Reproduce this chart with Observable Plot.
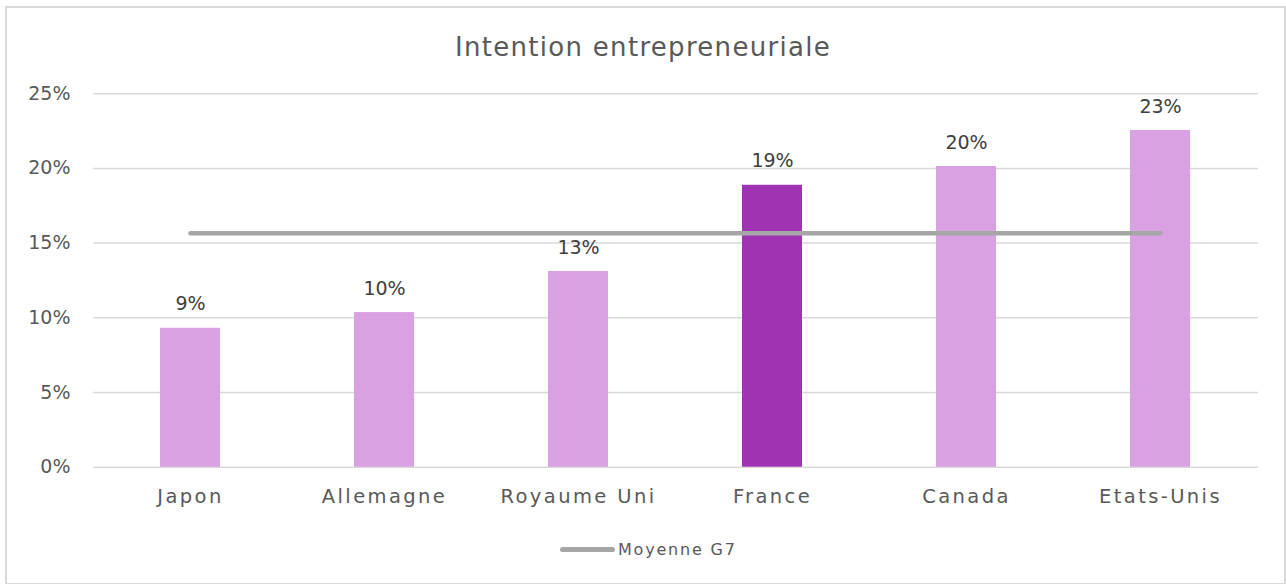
<!DOCTYPE html>
<html>
<head>
<meta charset="utf-8">
<script src="https://cdn.jsdelivr.net/npm/d3@7"></script>
<script src="https://cdn.jsdelivr.net/npm/@observablehq/plot@0.6"></script>
<style>
  html, body { margin: 0; padding: 0; background: #fff; }
  body { width: 1286px; height: 584px; position: relative; overflow: hidden; font-family: "DejaVu Sans", sans-serif; }
  #frame { position: absolute; left: 5px; top: 6px; width: 1281px; height: 579px; border: 2px solid #d9d9d9; box-sizing: border-box; }
  #title { position: absolute; left: 0; width: 1286px; top: 32px; text-align: center; font-size: 26px; color: #595959; letter-spacing: 1.3px; }
  #chart { position: absolute; left: 0; top: 60px; }
  #chart g[aria-label="x-axis tick label"] text { letter-spacing: 2.4px; }
  #legend { position: absolute; top: 540px; left: 560px; display: flex; align-items: center; font-size: 16px; color: #595959; letter-spacing: 1.8px; }
  #legend .sw { width: 55px; height: 5px; border-radius: 3px; background: #a6a6a6; margin-right: 3px; }
</style>
</head>
<body>
<div id="frame"></div>
<div id="title">Intention entrepreneuriale</div>
<div id="chart"></div>
<div id="legend"><span class="sw"></span><span>Moyenne G7</span></div>
<script>
const countries = ["Japon", "Allemagne", "Royaume Uni", "France", "Canada", "Etats-Unis"];
const values = [0.093, 0.1035, 0.131, 0.1887, 0.2013, 0.2254];
const g7Average = 0.1566;
const highlight = "France";
const yTicks = [0, 0.05, 0.10, 0.15, 0.20, 0.25];

const rows = countries.map((c, i) => ({country: c, value: values[i], avg: g7Average}));

const chart = Plot.plot({
  width: 1286,
  height: 480,
  marginLeft: 93,
  marginRight: 28,
  marginTop: 33.2,
  marginBottom: 73.3,
  style: {fontFamily: "DejaVu Sans, sans-serif", background: "transparent"},
  x: {domain: countries, paddingInner: 0.69, paddingOuter: 0.345, label: null},
  y: {domain: [0, 0.25], label: null},
  marks: [
    Plot.gridY(yTicks, {stroke: "#d9d9d9", strokeOpacity: 1, strokeWidth: 1.5}),
    Plot.axisY(yTicks, {tickSize: 0, tickPadding: 23, tickFormat: d => Math.round(d * 100) + "%", fontSize: 19, fill: "#595959", label: null}),
    Plot.axisX({tickSize: 0, tickPadding: 22, fontSize: 19.5, fill: "#595959", label: null}),
    Plot.barY(rows, {x: "country", y: "value", fill: d => d.country === highlight ? "#a033b3" : "#d9a0e3"}),
    Plot.line(rows, {x: "country", y: "avg", stroke: "#a6a6a6", strokeWidth: 4.5, strokeLinecap: "round"}),
    Plot.text(rows, {x: "country", y: "value", text: d => Math.round(d.value * 100) + "%", dy: -24, fontSize: 19, fill: "#404040"})
  ]
});
document.getElementById("chart").appendChild(chart);
</script>
</body>
</html>
